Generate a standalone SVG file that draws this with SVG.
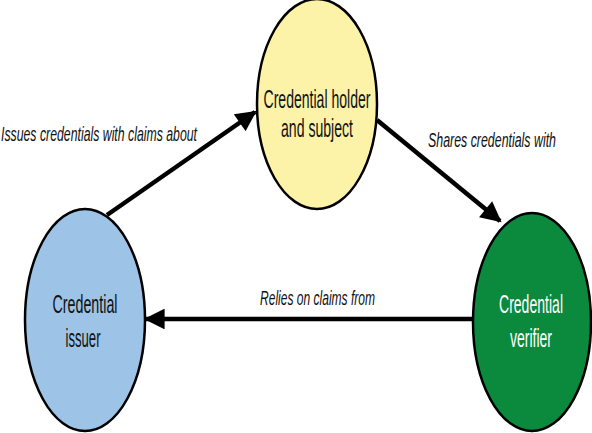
<svg xmlns="http://www.w3.org/2000/svg" width="592" height="433" viewBox="0 0 592 433">
<defs>
<style>
.node{stroke:#000;stroke-width:2.5}
.nt{font-family:"Liberation Sans",Arial,sans-serif;font-size:26px;text-anchor:middle;fill:#111}
.lbl{font-family:"Liberation Sans",Arial,sans-serif;font-size:21px;font-style:italic;fill:#111}
.edge{stroke:#000;stroke-width:4.5;fill:none}
</style>
<marker id="ah" viewBox="0 0 10 10" refX="9" refY="5" markerWidth="5" markerHeight="4.6" orient="auto" markerUnits="strokeWidth">
<path d="M0,0 L10,5 L0,10 Z" fill="#000"/>
</marker>
</defs>
<rect width="592" height="433" fill="#fff"/>
<g id="connectors">
<line class="edge" x1="107" y1="215" x2="255" y2="112" marker-end="url(#ah)"/>
<line class="edge" x1="377" y1="120" x2="500" y2="221" marker-end="url(#ah)"/>
<line class="edge" x1="473" y1="319" x2="146" y2="319" marker-end="url(#ah)"/>
<text class="lbl" x="1" y="141" textLength="196" lengthAdjust="spacingAndGlyphs">Issues credentials with claims about</text>
<text class="lbl" x="428" y="147" textLength="128" lengthAdjust="spacingAndGlyphs">Shares credentials with</text>
<text class="lbl" x="260" y="305" textLength="115" lengthAdjust="spacingAndGlyphs">Relies on claims from</text>
</g>
<g id="holder">
<ellipse class="node" cx="317" cy="104" rx="60" ry="105" fill="#FCF2A8"/>
<text class="nt" x="317" y="108" textLength="107" lengthAdjust="spacingAndGlyphs">Credential holder</text>
<text class="nt" x="317" y="137" textLength="72" lengthAdjust="spacingAndGlyphs">and subject</text>
</g>
<g id="issuer">
<ellipse class="node" cx="85" cy="320" rx="60" ry="111" fill="#9DC3E6"/>
<text class="nt" x="85" y="313" textLength="65" lengthAdjust="spacingAndGlyphs">Credential</text>
<text class="nt" x="83" y="347" textLength="35" lengthAdjust="spacingAndGlyphs">issuer</text>
</g>
<g id="verifier">
<ellipse class="node" cx="532" cy="322" rx="59" ry="109" fill="#0B8A3E"/>
<text class="nt" x="531" y="313" textLength="64" lengthAdjust="spacingAndGlyphs" style="fill:#fff">Credential</text>
<text class="nt" x="531" y="347" textLength="42" lengthAdjust="spacingAndGlyphs" style="fill:#fff">verifier</text>
</g>
</svg>
